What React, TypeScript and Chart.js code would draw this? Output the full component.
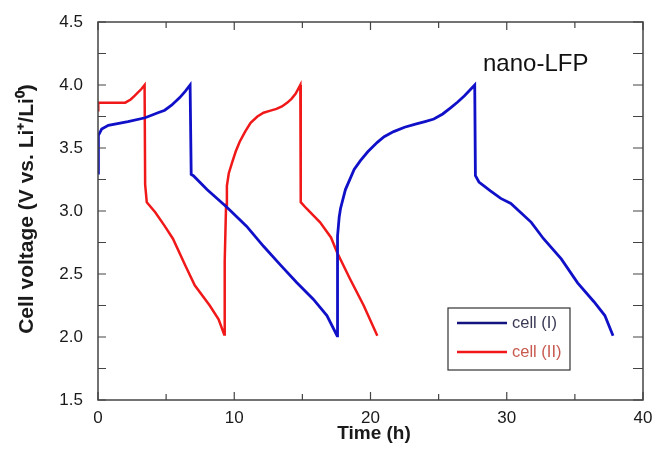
import React, { useEffect, useRef } from "react";
import { Chart, registerables } from "chart.js";

Chart.register(...registerables);

const cellI_t = [0, 0.03, 0.27, 0.76, 2.2, 3.46, 4.4, 4.9, 5.4, 6.0, 6.4, 6.76, 6.84, 7.0, 8.0, 9.46, 10.9, 12.15, 13.4, 14.6, 15.8, 16.8, 17.55, 17.58, 17.7, 17.8, 18.16, 18.8, 19.26, 19.8, 20.5, 21.0, 21.7, 22.5, 23.3, 24.0, 24.65, 25.3, 25.9, 26.4, 26.9, 27.3, 27.65, 27.7, 27.96, 28.8, 29.56, 30.3, 31.0, 31.8, 32.7, 34.0, 35.2, 36.4, 37.2, 37.8];
const cellI_v = [3.3, 3.6, 3.65, 3.68, 3.71, 3.74, 3.78, 3.8, 3.84, 3.9, 3.95, 4.0, 3.29, 3.28, 3.17, 3.03, 2.88, 2.72, 2.57, 2.43, 2.3, 2.17, 2.01, 2.8, 2.95, 3.02, 3.17, 3.33, 3.4, 3.47, 3.545, 3.59, 3.63, 3.665, 3.69, 3.71, 3.73, 3.77, 3.82, 3.865, 3.915, 3.96, 4.0, 3.28, 3.23, 3.16, 3.1, 3.06, 2.99, 2.91, 2.78, 2.62, 2.43, 2.28, 2.17, 2.01];

const cellII_t = [0, 0.02, 2.0, 2.4, 2.7, 3.2, 3.42, 3.46, 3.58, 4.2, 4.9, 5.5, 6.4, 7.1, 8.2, 8.85, 9.26, 9.3, 9.4, 9.46, 9.6, 9.83, 10.1, 10.4, 10.8, 11.2, 11.7, 12.15, 12.6, 13.1, 13.5, 13.9, 14.2, 14.5, 14.85, 14.88, 15.3, 16.3, 17.1, 17.55, 18.5, 19.5, 20.5];
const cellII_v = [3.8, 3.86, 3.86, 3.885, 3.915, 3.97, 4.0, 3.21, 3.07, 2.99, 2.88, 2.78, 2.57, 2.41, 2.25, 2.14, 2.02, 2.6, 3.05, 3.2, 3.3, 3.38, 3.47, 3.55, 3.63, 3.7, 3.75, 3.78, 3.795, 3.81, 3.83, 3.86, 3.89, 3.93, 4.0, 3.07, 3.02, 2.91, 2.79, 2.67, 2.46, 2.25, 2.01];

const xTickLabels = [0, 10, 20, 30, 40];
const yTickLabels = [1.5, 2.0, 2.5, 3.0, 3.5, 4.0, 4.5];
const legendLabels = ["cell (I)", "cell (II)"];
const annotationText = "nano-LFP";
const xTitle = "Time (h)";
const yTitle = "Cell voltage (V vs. Li\u207A/Li\u2070)";

const BLUE = "#1010c8";
const RED = "#f01818";
const AXIS = "#444444";
const FONT = "'Liberation Sans', Arial, sans-serif";

const toPts = (t: number[], v: number[]) => t.map((x, i) => ({ x, y: v[i] }));

const framePlugin = {
  id: "frame",
  afterDraw(chart: any) {
    const { ctx, chartArea: a, scales } = chart;
    const xs = scales.x;
    const ys = scales.y;
    ctx.save();
    ctx.strokeStyle = AXIS;
    ctx.lineWidth = 1.5;
    ctx.strokeRect(a.left, a.top, a.right - a.left, a.bottom - a.top);
    ctx.lineWidth = 1.2;
    ctx.beginPath();
    for (let v = 0; v <= 40; v += 5) {
      const px = xs.getPixelForValue(v);
      const len = v % 10 === 0 ? 8 : 6;
      ctx.moveTo(px, a.bottom);
      ctx.lineTo(px, a.bottom - len);
      ctx.moveTo(px, a.top);
      ctx.lineTo(px, a.top + len);
    }
    for (let v = 1.5; v <= 4.5001; v += 0.25) {
      const py = ys.getPixelForValue(v);
      ctx.moveTo(a.left, py);
      ctx.lineTo(a.left + 8, py);
      ctx.moveTo(a.right, py);
      ctx.lineTo(a.right - 10, py);
    }
    ctx.stroke();

    ctx.fillStyle = "#1a1a1a";
    ctx.font = `bold 19px ${FONT}`;
    ctx.textAlign = "center";
    ctx.textBaseline = "middle";
    ctx.fillText(xTitle, 374, 434);
    ctx.save();
    ctx.translate(27, 209);
    ctx.rotate(-Math.PI / 2);
    ctx.font = `bold 21px ${FONT}`;
    ctx.fillText(yTitle, 0, 0);
    ctx.restore();

    ctx.font = `24px ${FONT}`;
    ctx.textAlign = "left";
    ctx.textBaseline = "alphabetic";
    ctx.fillStyle = "#111111";
    ctx.fillText(annotationText, 483, 71);

    const lx = 448, ly = 308, lw = 122, lh = 62;
    ctx.fillStyle = "#ffffff";
    ctx.fillRect(lx, ly, lw, lh);
    ctx.strokeStyle = "#333333";
    ctx.lineWidth = 1.2;
    ctx.strokeRect(lx, ly, lw, lh);
    const colors = ["#141480", RED];
    const textColors = ["#3a3a55", "#c85a50"];
    const rows = [323, 352];
    ctx.font = `16.5px ${FONT}`;
    ctx.textBaseline = "middle";
    legendLabels.forEach((lab, i) => {
      ctx.strokeStyle = colors[i];
      ctx.lineWidth = 2.5;
      ctx.beginPath();
      ctx.moveTo(457, rows[i]);
      ctx.lineTo(507, rows[i]);
      ctx.stroke();
      ctx.fillStyle = textColors[i];
      ctx.fillText(lab, 512, rows[i]);
    });
    ctx.restore();
  },
};

export default function App() {
  const ref = useRef<HTMLCanvasElement>(null);
  useEffect(() => {
    document.body.style.margin = "0";
    const chart = new Chart(ref.current!, {
      type: "line",
      data: {
        datasets: [
          {
            label: legendLabels[0],
            data: toPts(cellI_t, cellI_v),
            borderColor: BLUE,
            borderWidth: 2.8,
            pointRadius: 0,
            tension: 0,
          },
          {
            label: legendLabels[1],
            data: toPts(cellII_t, cellII_v),
            borderColor: RED,
            borderWidth: 2.5,
            pointRadius: 0,
            tension: 0,
          },
        ],
      },
      options: {
        animation: false,
        responsive: false,
        layout: { padding: { top: 22, right: 13, left: 0, bottom: 0 } },
        plugins: { legend: { display: false }, tooltip: { enabled: false } },
        scales: {
          x: {
            type: "linear",
            min: 0,
            max: 40,
            grid: { display: false, drawTicks: false },
            border: { display: false },
            afterFit: (s: any) => {
              s.height = 53;
              s.paddingLeft = 0;
              s.paddingRight = 0;
            },
            ticks: {
              stepSize: 5,
              padding: 8,
              color: "#1a1a1a",
              font: { size: 17, family: FONT },
              callback: (v: any) => (xTickLabels.includes(Number(v)) ? String(v) : ""),
            },
          },
          y: {
            type: "linear",
            min: 1.5,
            max: 4.5,
            grid: { display: false, drawTicks: false },
            border: { display: false },
            afterFit: (s: any) => {
              s.width = 98;
              s.paddingTop = 0;
              s.paddingBottom = 0;
            },
            ticks: {
              stepSize: 0.5,
              padding: 15,
              color: "#1a1a1a",
              font: { size: 17, family: FONT },
              callback: (v: any) => {
                const n = Number(v);
                return yTickLabels.some((t) => Math.abs(t - n) < 1e-6) ? n.toFixed(1) : "";
              },
            },
          },
        },
      },
      plugins: [framePlugin],
    });
    return () => chart.destroy();
  }, []);
  return <canvas ref={ref} width={656} height={453} style={{ display: "block" }} />;
}
